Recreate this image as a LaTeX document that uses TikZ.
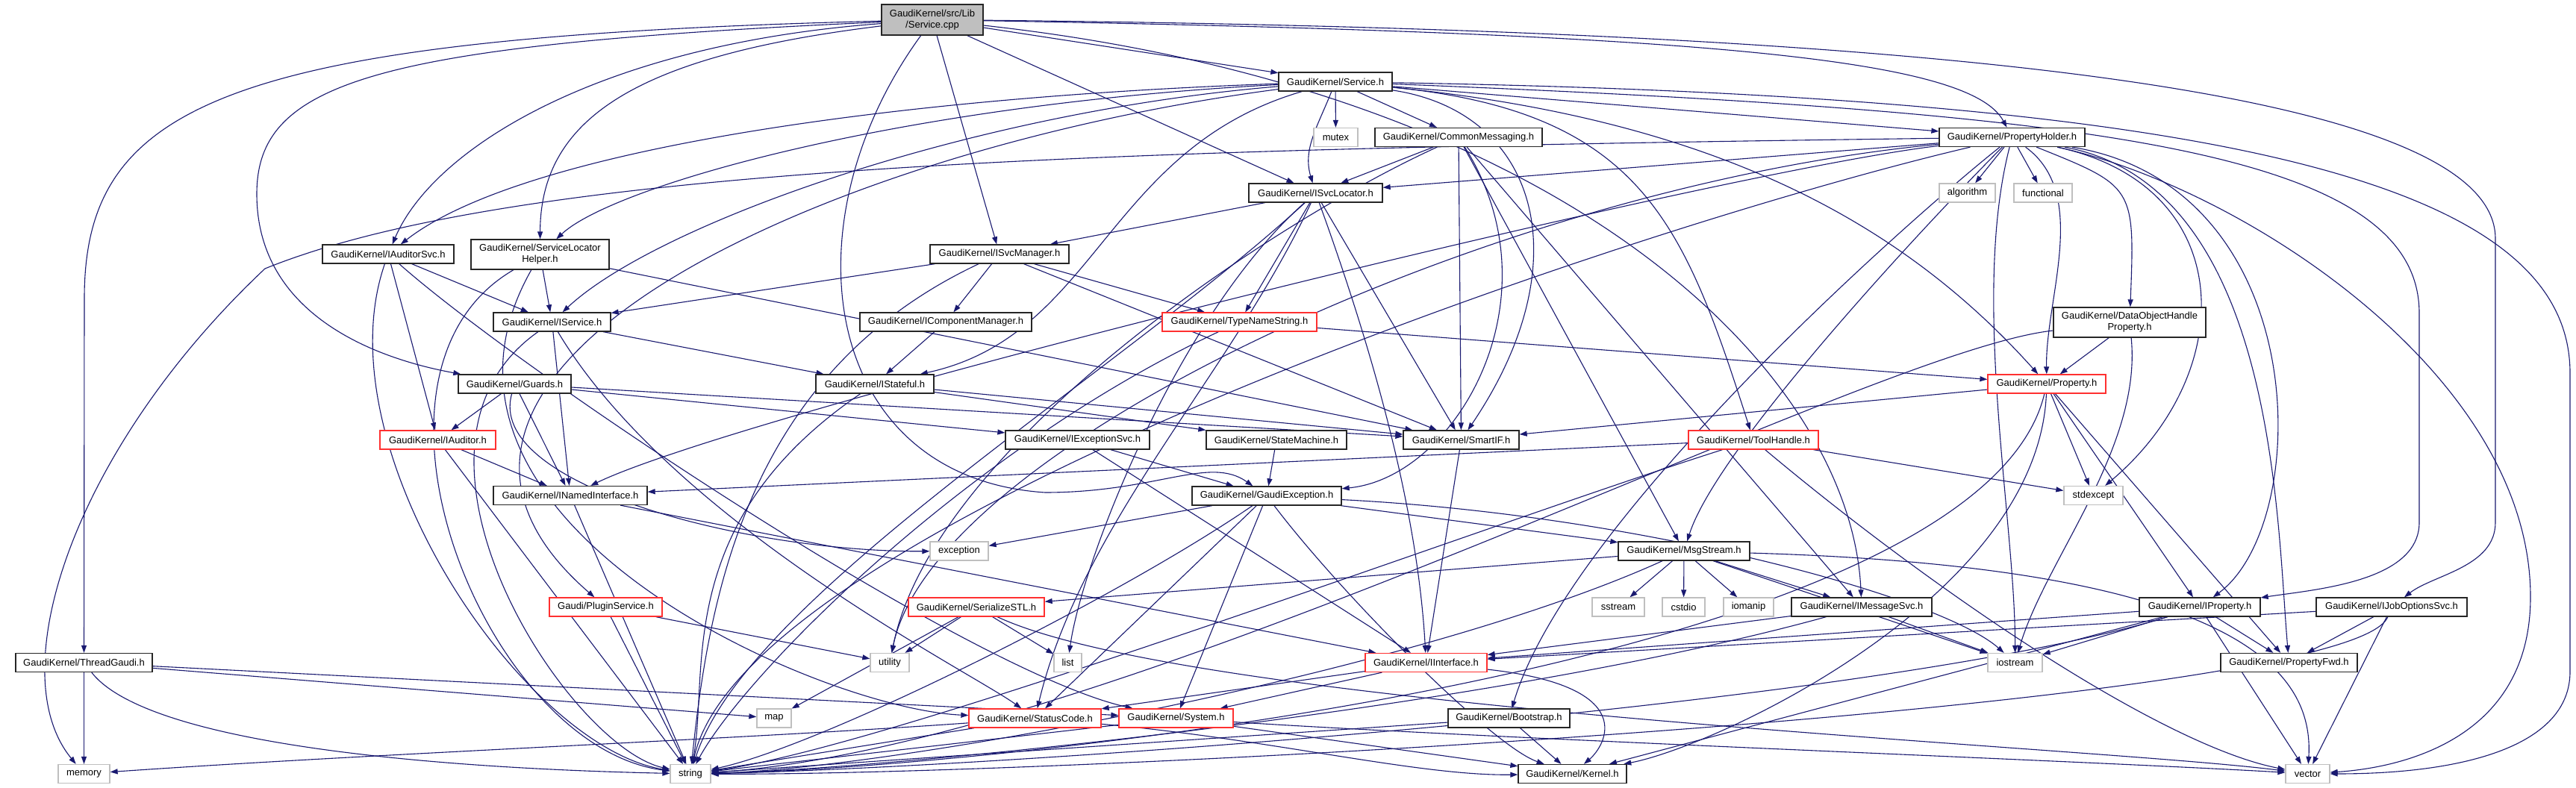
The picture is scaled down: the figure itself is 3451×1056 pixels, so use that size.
\documentclass[tikz,border=0pt]{standalone}
\usepackage{fontspec}
\setmainfont{Liberation Sans}
\usetikzlibrary{arrows.meta,backgrounds}
\definecolor{edgec}{HTML}{191970}
\definecolor{grayb}{HTML}{BFBFBF}
\definecolor{redb}{HTML}{FF3030}
\begin{document}
\begin{tikzpicture}[x=1pt,y=-1pt,
  font=\fontsize{13}{15}\selectfont,
  nb/.style={draw=black!85, line width=1.3pt, fill=white, inner sep=0pt, minimum height=25pt, align=center},
  nr/.style={nb, draw=redb},
  ng/.style={nb, draw=grayb},
  e/.style={draw=edgec, line width=1.1pt, -{Triangle[length=10pt,width=7pt]}}]
\useasboundingbox (0,0) rectangle (3451,1056);
% nodes
\node[nb, fill=grayb, minimum width=136pt, minimum height=41pt] (cpp) at (1249,26.5) {GaudiKernel/src/Lib\\/Service.cpp};
\node[nb, minimum width=152pt] (srvh) at (1789,109.5) {GaudiKernel/Service.h};
\node[ng, minimum width=59pt] (mutex) at (1789.5,184) {mutex};
\node[nb, minimum width=224pt] (cmsg) at (1954,184) {GaudiKernel/CommonMessaging.h};
\node[nb, minimum width=195pt] (prophold) at (2695.5,184) {GaudiKernel/PropertyHolder.h};
\node[nb, minimum width=179pt] (svcloc) at (1762.5,258.5) {GaudiKernel/ISvcLocator.h};
\node[ng, minimum width=75pt] (algorithm) at (2635.5,258.5) {algorithm};
\node[ng, minimum width=78pt] (functional) at (2737,258.5) {functional};
\node[nb, minimum width=176pt] (audsvc) at (520,340.5) {GaudiKernel/IAuditorSvc.h};
\node[nb, minimum width=185pt, minimum height=40pt] (slh) at (723.5,341) {GaudiKernel/ServiceLocator\\Helper.h};
\node[nb, minimum width=186pt] (svcmgr) at (1339,340.5) {GaudiKernel/ISvcManager.h};
\node[nb, minimum width=157pt] (iservice) at (739.5,431.5) {GaudiKernel/IService.h};
\node[nb, minimum width=230pt] (icompmgr) at (1267,431.5) {GaudiKernel/IComponentManager.h};
\node[nr, minimum width=207pt] (typename) at (1660.5,431.5) {GaudiKernel/TypeNameString.h};
\node[nb, minimum width=204pt, minimum height=40pt] (dohp) at (2853,432) {GaudiKernel/DataObjectHandle\\Property.h};
\node[nb, minimum width=151pt] (guards) at (689.5,514.5) {GaudiKernel/Guards.h};
\node[nb, minimum width=158pt] (istateful) at (1172,514.5) {GaudiKernel/IStateful.h};
\node[nr, minimum width=158pt] (property) at (2742,514.5) {GaudiKernel/Property.h};
\node[nr, minimum width=155pt] (iauditor) at (586.5,589.5) {GaudiKernel/IAuditor.h};
\node[nb, minimum width=193pt] (iexcsvc) at (1443.5,589.5) {GaudiKernel/IExceptionSvc.h};
\node[nb, minimum width=188pt] (statemach) at (1710,589.5) {GaudiKernel/StateMachine.h};
\node[nb, minimum width=155pt] (smartif) at (1957.5,589.5) {GaudiKernel/SmartIF.h};
\node[nr, minimum width=174pt] (toolhandle) at (2349,589.5) {GaudiKernel/ToolHandle.h};
\node[nb, minimum width=206pt] (inamed) at (764,664) {GaudiKernel/INamedInterface.h};
\node[nb, minimum width=200pt] (gexc) at (1697,664.5) {GaudiKernel/GaudiException.h};
\node[ng, minimum width=79pt] (stdexcept) at (2804.5,664) {stdexcept};
\node[ng, minimum width=78pt] (exception) at (1285,738.5) {exception};
\node[nb, minimum width=176pt] (msgstream) at (2256,738.5) {GaudiKernel/MsgStream.h};
\node[nr, minimum width=151pt] (plugin) at (811.5,813.5) {Gaudi/PluginService.h};
\node[nr, minimum width=182pt] (serialize) at (1308,813.5) {GaudiKernel/SerializeSTL.h};
\node[ng, minimum width=70pt] (sstream) at (2168,813.5) {sstream};
\node[ng, minimum width=57pt] (cstdio) at (2255.5,813.5) {cstdio};
\node[ng, minimum width=67pt] (iomanip) at (2342.5,813.5) {iomanip};
\node[nb, minimum width=188pt] (imsgsvc) at (2494,813.5) {GaudiKernel/IMessageSvc.h};
\node[nb, minimum width=162pt] (iproperty) at (2947,813.5) {GaudiKernel/IProperty.h};
\node[nb, minimum width=202pt] (ijobopt) at (3204,813.5) {GaudiKernel/IJobOptionsSvc.h};
\node[nb, minimum width=183pt] (thread) at (112.5,888) {GaudiKernel/ThreadGaudi.h};
\node[ng, minimum width=52pt] (utility) at (1192,888) {utility};
\node[ng, minimum width=37pt] (list) at (1430.5,888) {list};
\node[nr, minimum width=163pt] (iinterface) at (1910.5,888) {GaudiKernel/IInterface.h};
\node[ng, minimum width=73pt] (iostream) at (2699.5,888) {iostream};
\node[nb, minimum width=183pt] (propfwd) at (3066.5,888) {GaudiKernel/PropertyFwd.h};
\node[ng, minimum width=46pt] (map) at (1037,962.5) {map};
\node[nr, minimum width=177pt] (statuscode) at (1386.5,962.5) {GaudiKernel/StatusCode.h};
\node[nr, minimum width=153pt] (system) at (1575.5,962.5) {GaudiKernel/System.h};
\node[nb, minimum width=163pt] (bootstrap) at (2021.5,962.5) {GaudiKernel/Bootstrap.h};
\node[ng, minimum width=69pt] (memory) at (112.5,1037) {memory};
\node[ng, minimum width=54pt] (string) at (925,1037) {string};
\node[nb, minimum width=145pt] (kernel) at (2106.5,1037) {GaudiKernel/Kernel.h};
\node[ng, minimum width=59pt] (vector) at (3091.5,1037) {vector};
% edges
\begin{pgfonlayer}{background}
\fill[white] (0,0) rectangle (3451,1056);
% Service.cpp
\draw[e] (cpp) -- (srvh);
\draw[e] (cpp) -- (svcloc);
\draw[e] (cpp) -- (svcmgr);
\draw[e] (cpp) .. controls (800,60) and (580,200) .. (audsvc);
\draw[e] (cpp) .. controls (850,75) and (724,160) .. (slh);
\draw[e] (cpp) .. controls (500,60) and (344,110) .. (344,260) .. controls (344,420) and (500,480) .. (guards);
\draw[e] (cpp) .. controls (300,50) and (113,140) .. (113,400) -- (thread);
\draw[e] (cpp) .. controls (1050,300) and (1100,640) .. (1400,660) .. controls (1550,660) and (1620,610) .. (gexc);
\draw[e] (cpp) .. controls (2300,45) and (2640,80) .. (prophold);
\draw[e] (cpp) .. controls (2100,120) and (2480,500) .. (imsgsvc);
\draw[e] (cpp) .. controls (2600,40) and (3343,120) .. (3343,320) -- (3343,700) .. controls (3343,760) and (3260,770) .. (ijobopt);
% Service.h
\draw[e] (srvh) -- (mutex);
\draw[e] (srvh) -- (cmsg);
\draw[e] (srvh) .. controls (1765,170) and (1745,200) .. (svcloc);
\draw[e] (srvh) -- (prophold);
\draw[e] (srvh) .. controls (1200,130) and (700,200) .. (audsvc);
\draw[e] (srvh) .. controls (1200,140) and (820,250) .. (slh);
\draw[e] (srvh) .. controls (1300,150) and (880,300) .. (iservice);
\draw[e] (srvh) .. controls (1100,200) and (450,500) .. (plugin);
\draw[e] (srvh) .. controls (1480,200) and (1470,450) .. (istateful);
\draw[e] (srvh) .. controls (2060,150) and (2120,350) .. (smartif);
\draw[e] (srvh) .. controls (2200,150) and (2256,300) .. (toolhandle);
\draw[e] (srvh) .. controls (2300,160) and (2550,300) .. (property);
\draw[e] (srvh) .. controls (2800,150) and (3241,200) .. (3241,420) -- (3241,700) .. controls (3241,780) and (3100,790) .. (iproperty);
\draw[e] (srvh) .. controls (3000,130) and (3443,250) .. (3443,500) -- (3443,900) .. controls (3443,1000) and (3300,1037) .. (vector);
% CommonMessaging
\draw[e] (cmsg) -- (svcloc);
\draw[e] (cmsg) -- (smartif);
\draw[e] (cmsg) -- (msgstream);
\draw[e] (cmsg) -- (imsgsvc);
\draw[e] (cmsg) .. controls (2090,400) and (1950,640) .. (gexc);
\draw[e] (cmsg) .. controls (1700,300) and (1250,600) .. (utility);
% PropertyHolder
\draw[e] (prophold) -- (svcloc);
\draw[e] (prophold) -- (algorithm);
\draw[e] (prophold) -- (functional);
\draw[e] (prophold) .. controls (2800,260) and (2740,400) .. (property);
\draw[e] (prophold) .. controls (2860,250) .. (dohp);
\draw[e] (prophold) .. controls (3000,250) and (3000,500) .. (stdexcept);
\draw[e] (prophold) .. controls (3050,250) and (3050,700) .. (propfwd);
\draw[e] (prophold) .. controls (3100,250) and (3100,700) .. (iproperty);
\draw[e] (prophold) .. controls (3000,250) and (3390,500) .. (3390,800) .. controls (3390,1000) and (3200,1030) .. (vector);
\draw[e] (prophold) .. controls (2550,300) and (2100,700) .. (bootstrap);
\draw[e] (prophold) .. controls (2580,300) and (2300,600) .. (msgstream);
\draw[e] (prophold) .. controls (2300,230) and (1000,550) .. (inamed);
\draw[e] (prophold) .. controls (2640,400) and (2700,700) .. (iostream);
\draw[e] (prophold) .. controls (1500,200) and (700,220) .. (355,360) .. controls (100,600) and (0,900) .. (memory);
\draw[e] (prophold) .. controls (2000,250) and (1250,600) .. (utility);
\draw[e] (prophold) .. controls (2200,300) and (1000,700) .. (string);
% ISvcLocator
\draw[e] (svcloc) -- (svcmgr);
\draw[e] (svcloc) -- (typename);
\draw[e] (svcloc) -- (smartif);
\draw[e] (svcloc) .. controls (1850,500) and (1900,700) .. (iinterface);
\draw[e] (svcloc) .. controls (1500,500) and (1000,800) .. (string);
\draw[e] (svcloc) .. controls (1650,500) and (1450,700) .. (statuscode);
\draw[e] (svcloc) .. controls (1580,420) and (1450,750) .. (list);
% IAuditorSvc
\draw[e] (audsvc) -- (iservice);
\draw[e] (audsvc) -- (iauditor);
\draw[e] (audsvc) .. controls (700,500) and (1300,900) .. (system);
\draw[e] (audsvc) .. controls (430,600) and (700,1000) .. (string);
% ServiceLocatorHelper
\draw[e] (slh) -- (iservice);
\draw[e] (slh) -- (smartif);
\draw[e] (slh) .. controls (450,500) and (650,1000) .. (string);
\draw[e] (slh) .. controls (520,700) and (1100,950) .. (statuscode);
% ISvcManager
\draw[e] (svcmgr) -- (iservice);
\draw[e] (svcmgr) -- (icompmgr);
\draw[e] (svcmgr) -- (typename);
\draw[e] (svcmgr) -- (smartif);
\draw[e] (svcmgr) .. controls (1000,500) and (950,800) .. (string);
% others
\draw[e] (icompmgr) -- (istateful);
\draw[e] (typename) -- (property);
\draw[e] (typename) .. controls (1300,600) and (1000,900) .. (string);
\draw[e] (iservice) -- (inamed);
\draw[e] (iservice) -- (istateful);
\draw[e] (iservice) .. controls (900,700) and (1300,900) .. (statuscode);
\draw[e] (iservice) .. controls (500,600) and (760,1000) .. (string);
\draw[e] (guards) -- (iauditor);
\draw[e] (guards) -- (inamed);
\draw[e] (guards) -- (iexcsvc);
\draw[e] (guards) -- (smartif);
\draw[e] (guards) .. controls (650,650) and (1000,740) .. (exception);
\draw[e] (istateful) -- (statemach);
\draw[e] (istateful) -- (smartif);
\draw[e] (istateful) .. controls (900,700) and (950,900) .. (string);
\draw[e] (statemach) -- (gexc);
\draw[e] (iexcsvc) -- (gexc);
\draw[e] (iexcsvc) -- (iinterface);
\draw[e] (gexc) -- (exception);
\draw[e] (gexc) -- (msgstream);
\draw[e] (gexc) -- (statuscode);
\draw[e] (gexc) -- (system);
\draw[e] (gexc) .. controls (1800,800) and (2000,1000) .. (kernel);
\draw[e] (gexc) .. controls (2200,690) and (2600,800) .. (iostream);
\draw[e] (gexc) .. controls (1500,800) and (1100,1000) .. (string);
\draw[e] (msgstream) -- (sstream);
\draw[e] (msgstream) -- (cstdio);
\draw[e] (msgstream) -- (iomanip);
\draw[e] (msgstream) -- (imsgsvc);
\draw[e] (msgstream) -- (serialize);
\draw[e] (msgstream) -- (iostream);
\draw[e] (msgstream) .. controls (1900,900) and (1200,1030) .. (string);
\draw[e] (msgstream) .. controls (3000,760) and (3100,900) .. (vector);
\draw[e] (imsgsvc) -- (iinterface);
\draw[e] (imsgsvc) -- (iostream);
\draw[e] (imsgsvc) .. controls (2000,950) and (1200,1030) .. (string);
\draw[e] (serialize) -- (utility);
\draw[e] (serialize) -- (map);
\draw[e] (serialize) -- (list);
\draw[e] (serialize) .. controls (1600,950) and (2800,1000) .. (vector);
\draw[e] (iinterface) -- (statuscode);
\draw[e] (iinterface) -- (system);
\draw[e] (iinterface) .. controls (2200,920) and (2150,1000) .. (kernel);
\draw[e] (statuscode) .. controls (1000,990) and (500,1010) .. (memory);
\draw[e] (statuscode) -- (string);
\draw[e] (statuscode) .. controls (1700,990) and (1900,1040) .. (kernel);
\draw[e] (system) -- (string);
\draw[e] (system) -- (kernel);
\draw[e] (system) .. controls (2000,990) and (2800,1020) .. (vector);
\draw[e] (bootstrap) -- (kernel);
\draw[e] (bootstrap) -- (string);
\draw[e] (iproperty) -- (iinterface);
\draw[e] (iproperty) -- (propfwd);
\draw[e] (iproperty) -- (iostream);
\draw[e] (iproperty) -- (vector);
\draw[e] (iproperty) -- (kernel);
\draw[e] (iproperty) .. controls (2500,950) and (1300,1030) .. (string);
\draw[e] (ijobopt) -- (propfwd);
\draw[e] (ijobopt) -- (iinterface);
\draw[e] (ijobopt) .. controls (3150,950) and (1400,1040) .. (string);
\draw[e] (ijobopt) -- (vector);
\draw[e] (property) -- (smartif);
\draw[e] (property) -- (stdexcept);
\draw[e] (property) -- (iproperty);
\draw[e] (property) -- (propfwd);
\draw[e] (property) .. controls (2730,800) and (2300,1000) .. (kernel);
\draw[e] (property) .. controls (2650,900) and (1300,1030) .. (string);
\draw[e] (dohp) -- (property);
\draw[e] (dohp) .. controls (2870,600) and (2740,750) .. (iostream);
\draw[e] (dohp) .. controls (2500,470) and (1500,1000) .. (string);
\draw[e] (toolhandle) -- (inamed);
\draw[e] (toolhandle) -- (stdexcept);
\draw[e] (toolhandle) .. controls (2000,700) and (1200,1000) .. (string);
\draw[e] (toolhandle) .. controls (2600,800) and (2900,1000) .. (vector);
\draw[e] (plugin) -- (utility);
\draw[e] (plugin) -- (string);
\draw[e] (inamed) -- (iinterface);
\draw[e] (inamed) -- (string);
\draw[e] (iauditor) -- (inamed);
\draw[e] (iauditor) -- (string);
\draw[e] (smartif) -- (iinterface);
\draw[e] (thread) -- (memory);
\draw[e] (thread) .. controls (200,1000) and (600,1030) .. (string);
\draw[e] (thread) -- (map);
\draw[e] (thread) -- (system);
\end{pgfonlayer}
\end{tikzpicture}
\end{document}
